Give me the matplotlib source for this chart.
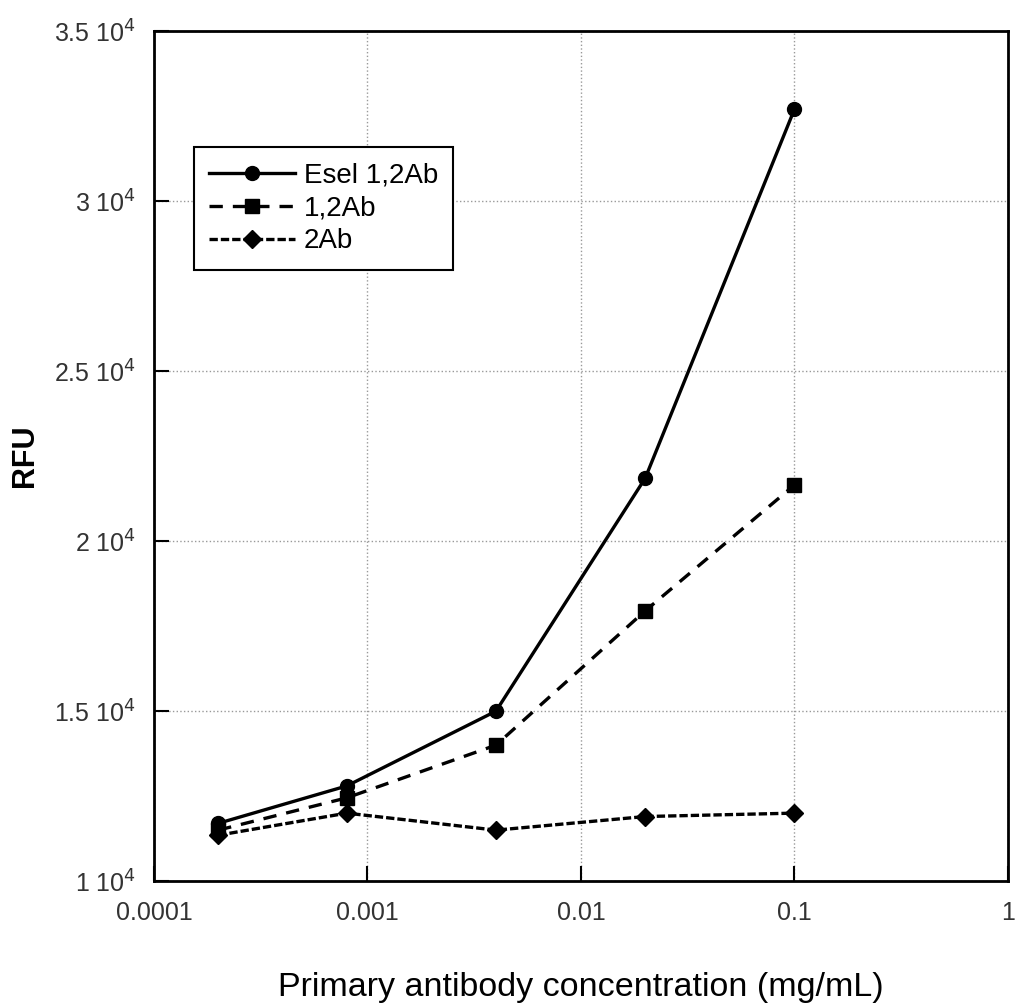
import matplotlib.pyplot as plt
from matplotlib.ticker import FixedLocator, NullLocator

plt.rcParams['font.family'] = ['Liberation Sans', 'DejaVu Sans']

conc = [0.0002, 0.0008, 0.004, 0.02, 0.1]
esel = [11700, 12800, 15000, 21850, 32700]
ab12 = [11500, 12450, 14000, 17950, 21650]
ab2 = [11350, 12000, 11500, 11900, 12000]

xticks = [0.0001, 0.001, 0.01, 0.1, 1]
xlabels = ["0.0001", "0.001", "0.01", "0.1", "1"]
yticks = [10000, 15000, 20000, 25000, 30000, 35000]
ylabels = [r"1 10$^4$", r"1.5 10$^4$", r"2 10$^4$", r"2.5 10$^4$", r"3 10$^4$", r"3.5 10$^4$"]

fig = plt.figure(figsize=(10.17, 10.07), dpi=100)
ax = fig.add_axes([0.1514, 0.125, 0.8396, 0.844])

ax.plot(conc, esel, color="black", lw=2.4, ls="-", marker="o", ms=10, label="Esel 1,2Ab")
ax.plot(conc, ab12, color="black", lw=2.4, ls=(0, (4, 3)), marker="s", ms=10, label="1,2Ab")
ax.plot(conc, ab2, color="black", lw=2.4, ls=(0, (2.5, 0.9)), marker="D", ms=9, label="2Ab")

ax.set_xscale("log")
ax.set_xlim(0.0001, 1)
ax.set_ylim(10000, 35000)
ax.xaxis.set_major_locator(FixedLocator(xticks))
ax.xaxis.set_minor_locator(NullLocator())
ax.set_xticks(xticks, labels=xlabels)
ax.set_yticks(yticks, labels=ylabels)
ax.tick_params(direction="in", length=11, width=1.5, labelsize=18, labelcolor="#333333")
ax.tick_params(axis="x", pad=14)
ax.tick_params(axis="y", pad=13)
ax.grid(True, color="#999999", ls=":", lw=1)
for s in ax.spines.values():
    s.set_linewidth(2)

ax.set_xlabel("Primary antibody concentration (mg/mL)", fontsize=24.5, labelpad=34)
ax.set_ylabel("RFU", fontsize=22, fontweight="bold", labelpad=10)

leg = ax.legend(loc="upper left", bbox_to_anchor=(0.047, 0.8635), fontsize=20, fancybox=False,
                framealpha=1, edgecolor="black", handlelength=3.1, borderpad=0.55, labelspacing=0.25,
                handletextpad=0.3, borderaxespad=0)
leg.get_frame().set_linewidth(1.5)

fig.savefig("out.png", dpi=100)
